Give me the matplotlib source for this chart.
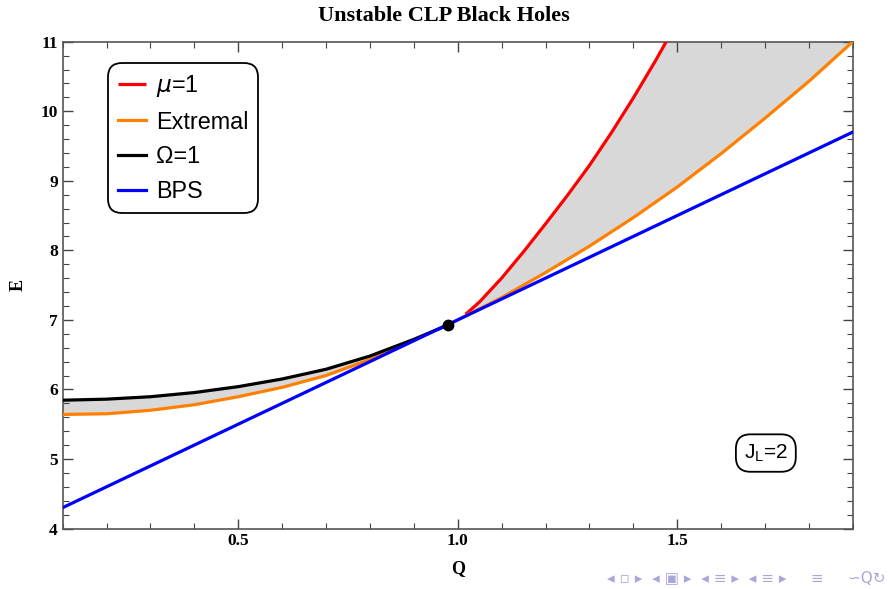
import matplotlib
matplotlib.use("Agg")
import matplotlib.pyplot as plt
import numpy as np
from matplotlib.ticker import MultipleLocator

# ---- data ----
q_bps = [0.1, 1.9]
e_bps = [4.3, 9.7]

q_ext = [0.1, 0.2, 0.3, 0.4, 0.5, 0.6, 0.7, 0.8, 0.9, 0.977, 1.05, 1.1, 1.2, 1.3, 1.4, 1.5, 1.6, 1.7, 1.8, 1.9]
e_ext = [5.64, 5.65, 5.70, 5.78, 5.895, 6.03, 6.20, 6.43, 6.71, 6.925, 7.16, 7.32, 7.68, 8.06, 8.47, 8.91, 9.39, 9.90, 10.43, 11.0]

q_omega = [0.1, 0.2, 0.3, 0.4, 0.5, 0.6, 0.7, 0.8, 0.9, 0.977]
e_omega = [5.845, 5.86, 5.895, 5.955, 6.04, 6.15, 6.29, 6.48, 6.72, 6.925]

q_mu = [1.018, 1.05, 1.1, 1.15, 1.2, 1.25, 1.3, 1.35, 1.4, 1.45, 1.475]
e_mu = [7.08, 7.26, 7.60, 7.98, 8.38, 8.79, 9.22, 9.69, 10.19, 10.72, 11.0]

q_point = [0.977]
e_point = [6.92]

x_ticks = [0.5, 1.0, 1.5]
x_ticklabels = ["0.5", "1.0", "1.5"]
y_ticks = [4, 5, 6, 7, 8, 9, 10, 11]

serif = ["Liberation Serif", "DejaVu Serif"]
sans = ["Liberation Sans", "DejaVu Sans"]

fig = plt.figure(figsize=(8.88, 5.89), dpi=100)
ax = fig.add_axes([0.0706, 0.1027, 0.8897, 0.8265])

gray = "#d8d8d8"
qe = np.array(q_ext); ee = np.array(e_ext)
left = qe <= q_omega[-1] + 1e-9
ax.fill(np.concatenate([q_omega, qe[left][::-1]]),
        np.concatenate([e_omega, ee[left][::-1]]), color=gray, lw=0, zorder=1)
right = qe >= q_mu[0]
ax.fill(np.concatenate([qe[right], q_mu[::-1]]),
        np.concatenate([ee[right], e_mu[::-1]]), color=gray, lw=0, zorder=1)

lw = 2.3
ax.plot(q_mu, e_mu, color="#ff0000", lw=lw, label=r"$\mu$=1", zorder=3, solid_capstyle="butt")
ax.plot(q_ext, e_ext, color="#ff8000", lw=lw, label="Extremal", zorder=3)
ax.plot(q_omega, e_omega, color="#000000", lw=lw, label="Ω=1", zorder=3)
ax.plot(q_bps, e_bps, color="#0000ff", lw=lw, label="BPS", zorder=4)
ax.plot(q_point, e_point, "o", color="black", ms=7.5, zorder=5)

ax.set_xlim(0.1, 1.9)
ax.set_ylim(4, 11)
ax.set_xticks(x_ticks)
ax.set_xticklabels(x_ticklabels)
ax.set_yticks(y_ticks)
ax.xaxis.set_minor_locator(MultipleLocator(0.1))
ax.yaxis.set_minor_locator(MultipleLocator(0.2))
ax.tick_params(which="both", direction="in", top=True, right=True, color="#444444")
ax.tick_params(which="major", length=7, width=1)
ax.tick_params(which="minor", length=4, width=0.8)
for s in ax.spines.values():
    s.set_color("#555555")
    s.set_linewidth(1.2)
for lab in ax.get_xticklabels() + ax.get_yticklabels():
    lab.set_fontfamily(serif)
    lab.set_fontweight("bold")
    lab.set_fontsize(12.5)

ax.set_xlabel("Q", fontfamily=serif, fontweight="bold", fontsize=13, labelpad=8)
ax.set_ylabel("E", fontfamily=serif, fontweight="bold", fontsize=13, labelpad=10)
fig.text(0.5, 0.972, "Unstable CLP Black Holes", ha="center", va="center",
         fontfamily=serif, fontweight="bold", fontsize=16)

leg = ax.legend(loc="upper left", bbox_to_anchor=(0.057, 0.956), borderaxespad=0,
                prop={"family": sans, "size": 16.8}, handlelength=1.2, handletextpad=0.45,
                labelspacing=0.5, borderpad=0.42, fancybox=True, framealpha=1,
                edgecolor="black")
leg.get_frame().set_linewidth(1.3)
leg.get_frame().set_boxstyle("round", pad=0.0, rounding_size=0.6)

ax.text(0.890, 0.155, r"J$_\mathregular{L}$=2", transform=ax.transAxes, ha="center", va="center",
        fontfamily=sans, fontsize=15,
        bbox=dict(boxstyle="round,pad=0.38,rounding_size=0.7", fc="white", ec="black", lw=1.3))

fig.text(0.997, 0.018, "◂ ▫ ▸  ◂ ▣ ▸  ◂ ≡ ▸  ◂ ≡ ▸     ≡     ∽Q↻", ha="right", va="center",
         fontfamily=["DejaVu Sans"], fontsize=11, color="#a8a8d8")

fig.savefig("out.png", dpi=100)
